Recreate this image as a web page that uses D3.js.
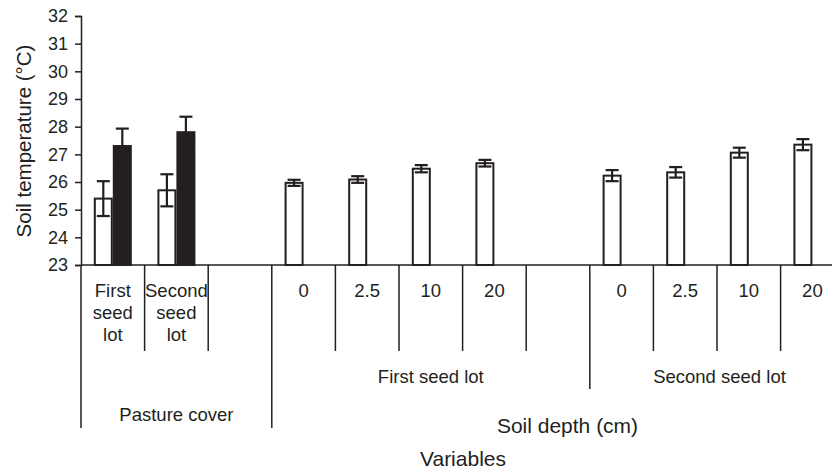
<!DOCTYPE html>
<html>
  <head>
    <title>Soil temperature</title>
    <script src="https://d3js.org/d3.v7.min.js"></script>
    <style>
      body { margin: 0; background: #fff; }
      text { font-family: "Liberation Sans", Arial, sans-serif; fill: #231f20; }
    </style>
  </head>
  <body>
    <div id="chart"></div>
    <script>
      // slots along the x axis (empty strings are spacer slots)
      const categories = ["First\nseed\nlot", "Second\nseed\nlot", "", "0", "2.5", "10", "20", "", "0", "2.5", "10", "20"];
      // open bars and their standard errors
      const openValues = [25.4, 25.7, null, 25.97, 26.09, 26.48, 26.68, null, 26.23, 26.35, 27.06, 27.35];
      const openErrors = [0.63, 0.58, null, 0.11, 0.12, 0.13, 0.12, null, 0.2, 0.19, 0.18, 0.2];
      // filled bars (pasture cover only)
      const filledValues = [27.3, 27.8, null, null, null, null, null, null, null, null, null, null];
      const filledErrors = [0.63, 0.56, null, null, null, null, null, null, null, null, null, null];
      const yTicks = [23, 24, 25, 26, 27, 28, 29, 30, 31, 32];

      const width = 832, height = 473;
      const ink = "#231f20";

      const svg = d3.select('#chart')
        .append('svg')
        .attr('width', width)
        .attr('height', height);

      const x = d3.scaleBand()
        .domain(d3.range(categories.length))
        .range([81, 81 + 12 * 63.6])
        .paddingInner(0);

      const sub = d3.scaleBand()
        .domain(['open', 'filled'])
        .range([-19, 19]);

      const y = d3.scaleLinear()
        .domain([23, 32])
        .range([265, 16]);

      // y axis
      const yAxis = svg.append('g')
        .attr('transform', 'translate(81,0)')
        .call(d3.axisLeft(y).tickValues(yTicks).tickSize(6).tickPadding(7));
      yAxis.select('.domain').attr('stroke', ink).attr('stroke-width', 1.5);
      yAxis.selectAll('.tick line').attr('stroke', ink).attr('stroke-width', 1.5);
      yAxis.selectAll('.tick text')
        .attr('font-size', 18)
        .attr('font-family', '"Liberation Sans", Arial, sans-serif')
        .attr('fill', ink);

      // x baseline
      svg.append('line')
        .attr('x1', 81).attr('x2', width)
        .attr('y1', y(23)).attr('y2', y(23))
        .attr('stroke', ink).attr('stroke-width', 1.5);

      // bars
      const series = [
        { key: 'open', values: openValues, errors: openErrors, fill: '#fff' },
        { key: 'filled', values: filledValues, errors: filledErrors, fill: ink }
      ];

      series.forEach(s => {
        const data = s.values.map((v, i) => ({ i, v, e: s.errors[i] })).filter(d => d.v != null);
        const cx = d => x(d.i) + x.bandwidth() / 2 + sub(s.key);

        svg.append('g').selectAll('rect')
          .data(data)
          .enter()
          .append('rect')
          .attr('x', d => cx(d) + 1)
          .attr('y', d => y(d.v))
          .attr('width', sub.bandwidth() - 2)
          .attr('height', d => y(23) - y(d.v))
          .attr('fill', s.fill)
          .attr('stroke', ink)
          .attr('stroke-width', 2);

        const err = svg.append('g')
          .attr('stroke', ink)
          .attr('stroke-width', 2.2)
          .selectAll('g')
          .data(data)
          .enter()
          .append('g');
        const mid = d => cx(d) + sub.bandwidth() / 2;
        err.append('line')
          .attr('x1', mid).attr('x2', mid)
          .attr('y1', d => y(d.v + d.e)).attr('y2', d => y(d.v - d.e));
        err.append('line')
          .attr('x1', d => mid(d) - 6.5).attr('x2', d => mid(d) + 6.5)
          .attr('y1', d => y(d.v + d.e)).attr('y2', d => y(d.v + d.e));
        err.append('line')
          .attr('x1', d => mid(d) - 6.5).attr('x2', d => mid(d) + 6.5)
          .attr('y1', d => y(d.v - d.e)).attr('y2', d => y(d.v - d.e));
      });

      // category dividers below the axis
      const dividerEnd = i => (i === 3 ? 428 : i === 8 ? 389 : 351);
      svg.append('g').selectAll('line')
        .data(d3.range(1, categories.length))
        .enter()
        .append('line')
        .attr('x1', i => x(i)).attr('x2', i => x(i))
        .attr('y1', y(23)).attr('y2', dividerEnd)
        .attr('stroke', ink).attr('stroke-width', 1.5);
      svg.append('line')
        .attr('x1', 81).attr('x2', 81)
        .attr('y1', y(23)).attr('y2', 428)
        .attr('stroke', ink).attr('stroke-width', 1.5);

      // category labels
      const labels = svg.append('g')
        .attr('font-size', 18.5)
        .attr('text-anchor', 'middle')
        .selectAll('text')
        .data(categories)
        .enter()
        .append('text')
        .attr('x', (d, i) => x(i) + x.bandwidth() / 2)
        .attr('y', 297);
      labels.selectAll('tspan')
        .data(d => d.split('\n'))
        .enter()
        .append('tspan')
        .attr('x', function() { return this.parentNode.getAttribute('x'); })
        .attr('dy', (d, j) => (j === 0 ? 0 : 22))
        .text(d => d);

      // group labels
      const groups = [
        { text: 'Pasture cover', x: (x(0) + x(3)) / 2, y: 421, size: 18.5 },
        { text: 'First seed lot', x: (x(3) + x(8)) / 2, y: 383, size: 18.5 },
        { text: 'Second seed lot', x: 719.5, y: 383, size: 18.5 },
        { text: 'Soil depth (cm)', x: 567.5, y: 433, size: 21 },
        { text: 'Variables', x: 463, y: 466, size: 21 }
      ];
      svg.append('g').selectAll('text')
        .data(groups)
        .enter()
        .append('text')
        .attr('x', d => d.x)
        .attr('y', d => d.y)
        .attr('font-size', d => d.size)
        .attr('text-anchor', 'middle')
        .text(d => d.text);

      // y title
      svg.append('text')
        .attr('transform', 'translate(31,141) rotate(-90)')
        .attr('text-anchor', 'middle')
        .attr('font-size', 20.5)
        .text('Soil temperature (°C)');
    </script>
  </body>
</html>
